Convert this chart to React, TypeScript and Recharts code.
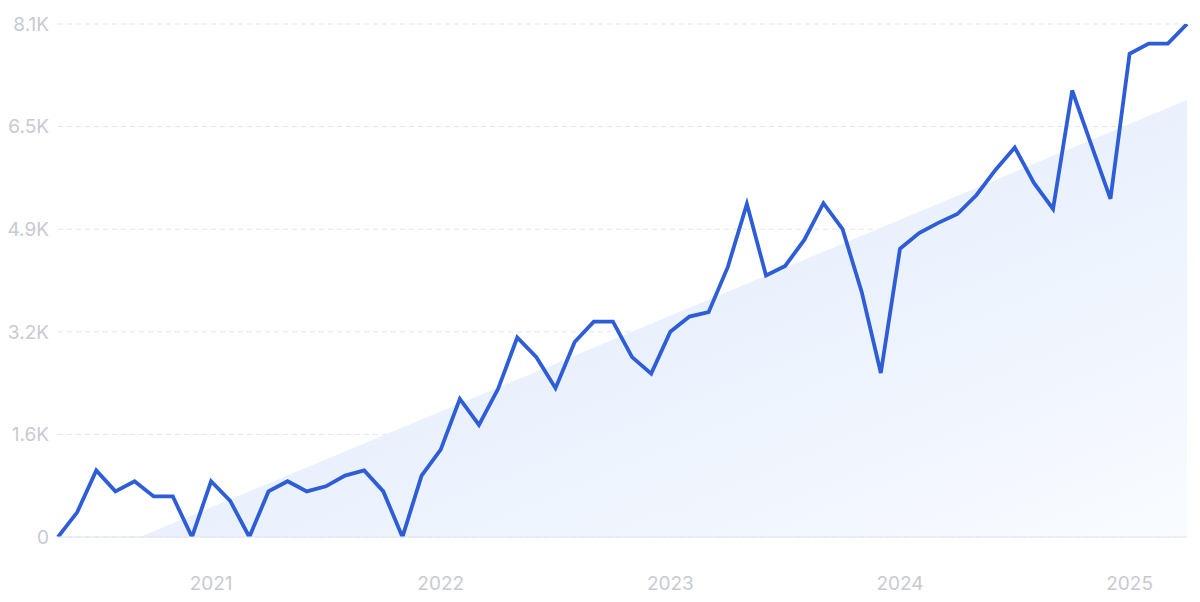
import { Area, CartesianGrid, ComposedChart, Line, XAxis, YAxis } from "recharts";

const months = [
  "2020-05", "2020-06", "2020-07", "2020-08", "2020-09", "2020-10", "2020-11", "2020-12",
  "2021-01", "2021-02", "2021-03", "2021-04", "2021-05", "2021-06", "2021-07", "2021-08",
  "2021-09", "2021-10", "2021-11", "2021-12",
  "2022-01", "2022-02", "2022-03", "2022-04", "2022-05", "2022-06", "2022-07", "2022-08",
  "2022-09", "2022-10", "2022-11", "2022-12",
  "2023-01", "2023-02", "2023-03", "2023-04", "2023-05", "2023-06", "2023-07", "2023-08",
  "2023-09", "2023-10", "2023-11", "2023-12",
  "2024-01", "2024-02", "2024-03", "2024-04", "2024-05", "2024-06", "2024-07", "2024-08",
  "2024-09", "2024-10", "2024-11", "2024-12",
  "2025-01", "2025-02", "2025-03", "2025-04",
];

const searches = [
  0, 390, 1050, 720, 880, 640, 640, 0,
  880, 570, 0, 720, 880, 720, 800, 970, 1050, 720, 0, 970,
  1380, 2180, 1770, 2340, 3150, 2840, 2350, 3080, 3400, 3400, 2840, 2580,
  3240, 3480, 3550, 4260, 5260, 4130, 4280, 4690, 5270, 4860, 3870, 2590,
  4550, 4800, 4960, 5100, 5400, 5800, 6150, 5590, 5180, 7050, 6190, 5340,
  7630, 7790, 7790, 8100,
];

// trend line read at the first and last month (clipped below zero)
const trendStart = -540;
const trendEnd = 6900;

const xTicks = ["2021-01", "2022-01", "2023-01", "2024-01", "2025-01"];
const yTicks = [0, 1620, 3240, 4860, 6480, 8100];
const yTickLabels = ["0", "1.6K", "3.2K", "4.9K", "6.5K", "8.1K"];

const data = months.map((month, i) => ({
  month,
  searches: searches[i],
  trend: i === 0 ? trendStart : i === months.length - 1 ? trendEnd : null,
}));

const tickStyle = { fontSize: 19, fill: "#c8cad1", fontFamily: "Inter, sans-serif" };

export default function App() {
  return (
    <div style={{ position: "absolute", left: 0, top: 0, background: "#fff" }}>
      <ComposedChart
        width={1200}
        height={602}
        data={data}
        margin={{ top: 24, right: 13, left: 0, bottom: 0 }}
      >
        <defs>
          <linearGradient id="trendFill" x1="0" y1="0" x2="1" y2="1">
            <stop offset="0%" stopColor="#d9e6fb" />
            <stop offset="100%" stopColor="#fafcff" />
          </linearGradient>
        </defs>
        <CartesianGrid vertical={false} stroke="#e0e5ee" strokeDasharray="5 4" />
        <XAxis
          dataKey="month"
          ticks={xTicks}
          tickFormatter={(m: string) => m.slice(0, 4)}
          height={65}
          tickLine={false}
          axisLine={{ stroke: "#dde2ef" }}
          tickSize={0}
          tickMargin={40}
          tick={tickStyle}
          interval={0}
        />
        <YAxis
          width={58}
          domain={[0, 8100]}
          allowDataOverflow
          ticks={yTicks}
          tickFormatter={(v: number) => yTickLabels[yTicks.indexOf(v)]}
          tickLine={false}
          axisLine={false}
          tickSize={0}
          tickMargin={9}
          tick={tickStyle}
          interval={0}
        />
        <Area
          type="linear"
          dataKey="trend"
          stroke="none"
          fill="url(#trendFill)"
          fillOpacity={1}
          connectNulls
          isAnimationActive={false}
          activeDot={false}
        />
        <Line
          type="linear"
          dataKey="searches"
          stroke="#2d5dd7"
          strokeWidth={3.8}
          dot={false}
          activeDot={false}
          isAnimationActive={false}
        />
      </ComposedChart>
    </div>
  );
}
